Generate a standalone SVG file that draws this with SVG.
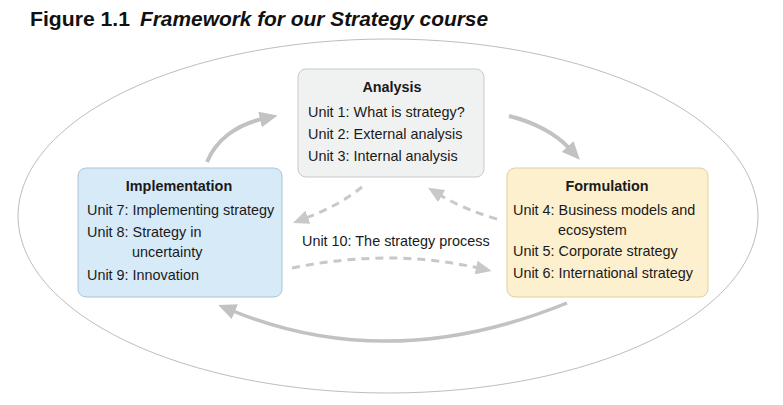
<svg xmlns="http://www.w3.org/2000/svg" width="783" height="405" viewBox="0 0 783 405">
<style>
.t{font-family:"Liberation Sans",Arial,sans-serif;font-size:14.4px;fill:#1a1a1a}
.b{font-weight:bold}
.m{text-anchor:middle}
.solid{fill:none;stroke:#c2c2c2;stroke-width:4}
.dash{fill:none;stroke:#c8c8c8;stroke-width:3;stroke-dasharray:8 6}
</style>
<defs>
<marker id="ah" markerUnits="userSpaceOnUse" markerWidth="18" markerHeight="16" refX="2" refY="8" orient="auto" viewBox="0 0 18 16">
<path d="M0,0 L18,8 L0,16 Z" fill="#c2c2c2"/>
</marker>
<marker id="ahd" markerUnits="userSpaceOnUse" markerWidth="16" markerHeight="14" refX="2" refY="7" orient="auto" viewBox="0 0 16 14">
<path d="M0,0 L16,7 L0,14 Z" fill="#c8c8c8"/>
</marker>
</defs>
<rect width="783" height="405" fill="#ffffff"/>
<g id="title">
<text x="30" y="26" font-family="Liberation Sans,Arial,sans-serif" font-size="20" font-weight="bold" fill="#111" textLength="100" lengthAdjust="spacingAndGlyphs">Figure 1.1</text>
<text x="140" y="26" font-family="Liberation Sans,Arial,sans-serif" font-size="20" font-weight="bold" font-style="italic" fill="#111" textLength="348" lengthAdjust="spacingAndGlyphs">Framework for our Strategy course</text>
</g>
<g id="frame">
<ellipse cx="388" cy="216" rx="370" ry="177" fill="none" stroke="#bdbdbd" stroke-width="1"/>
</g>
<g id="connectors">
<path class="solid" d="M207,162 C216,140 236,125 262,119" marker-end="url(#ah)"/>
<path class="solid" d="M509,116 C534,122 556,134 569,148" marker-end="url(#ah)"/>
<path class="solid" style="stroke-width:3.5" d="M567,303 Q390,375 233,311" marker-end="url(#ah)"/>
<path class="dash" d="M362,187 Q340,205 306,218" marker-end="url(#ahd)"/>
<path class="dash" d="M497,219 Q465,210 440,195" marker-end="url(#ahd)"/>
<path class="dash" d="M292,268 Q390,248 478,268" marker-end="url(#ahd)"/>
<text class="t" x="302" y="246">Unit 10: The strategy process</text>
</g>
<g id="analysis">
<rect x="298" y="69" width="186" height="108" rx="8" fill="#f0f1f1" stroke="#c9c9c9"/>
<text class="t b m" x="392" y="92">Analysis</text>
<text class="t" x="308" y="117">Unit 1: What is strategy?</text>
<text class="t" x="308" y="139">Unit 2: External analysis</text>
<text class="t" x="308" y="161">Unit 3: Internal analysis</text>
</g>
<g id="implementation">
<rect x="78" y="168" width="204" height="129" rx="8" fill="#d6eaf8" stroke="#aac4d8"/>
<text class="t b m" x="179" y="191">Implementation</text>
<text class="t" x="87" y="215">Unit 7: Implementing strategy</text>
<text class="t" x="87" y="237">Unit 8: Strategy in</text>
<text class="t" x="132" y="257">uncertainty</text>
<text class="t" x="87" y="280">Unit 9: Innovation</text>
</g>
<g id="formulation">
<rect x="507" y="168" width="201" height="129" rx="8" fill="#fdf0cf" stroke="#e3cf9f"/>
<text class="t b m" x="607" y="191">Formulation</text>
<text class="t" x="513" y="215">Unit 4: Business models and</text>
<text class="t" x="558" y="235">ecosystem</text>
<text class="t" x="513" y="256">Unit 5: Corporate strategy</text>
<text class="t" x="513" y="278">Unit 6: International strategy</text>
</g>
</svg>
